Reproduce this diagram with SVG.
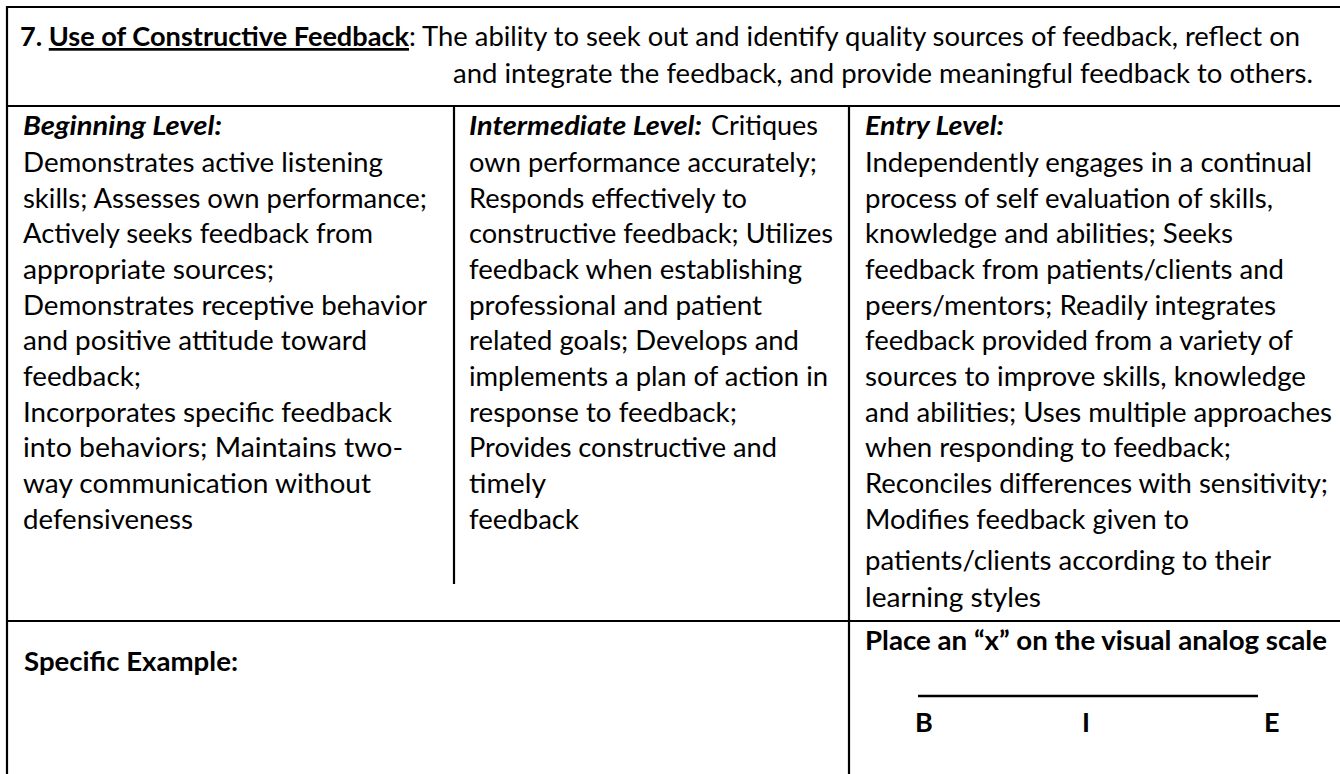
<svg xmlns="http://www.w3.org/2000/svg" width="1340" height="774" viewBox="0 0 1340 774">
<style>
  .t { font-family: Lato, "Open Sans", "Liberation Sans", sans-serif; font-size: 27px; fill: #000; }
  .b { font-weight: bold; }
  .bi { font-weight: bold; font-style: italic; }
  .grid line { stroke: #000; stroke-width: 2.2; }
</style>
<rect x="0" y="0" width="1340" height="774" fill="#fff"/>

<g id="grid" class="grid">
  <line x1="6" y1="7" x2="1340" y2="7"/>
  <line x1="7" y1="6" x2="7" y2="774"/>
  <line x1="6" y1="106" x2="1340" y2="106"/>
  <line x1="6" y1="621" x2="1340" y2="621"/>
  <line x1="454" y1="106" x2="454" y2="584"/>
  <line x1="849" y1="106" x2="849" y2="774"/>
</g>

<g id="title">
  <text class="t b" x="20" y="46" textLength="389" lengthAdjust="spacingAndGlyphs">7. <tspan text-decoration="underline">Use of Constructive Feedback</tspan></text>
  <text class="t" x="409" y="46" textLength="891" lengthAdjust="spacingAndGlyphs">: The ability to seek out and identify quality sources of feedback, reflect on</text>
  <text class="t" x="453" y="83" textLength="860" lengthAdjust="spacingAndGlyphs">and integrate the feedback, and provide meaningful feedback to others.</text>
</g>

<g id="beginning">
  <text class="t bi" x="23" y="135" textLength="199" lengthAdjust="spacingAndGlyphs">Beginning Level:</text>
  <text class="t" x="23" y="172" textLength="360" lengthAdjust="spacingAndGlyphs">Demonstrates active listening</text>
  <text class="t" x="23" y="208" textLength="404" lengthAdjust="spacingAndGlyphs">skills; Assesses own performance;</text>
  <text class="t" x="23" y="243" textLength="350" lengthAdjust="spacingAndGlyphs">Actively seeks feedback from</text>
  <text class="t" x="23" y="279" textLength="251" lengthAdjust="spacingAndGlyphs">appropriate sources;</text>
  <text class="t" x="23" y="315" textLength="404" lengthAdjust="spacingAndGlyphs">Demonstrates receptive behavior</text>
  <text class="t" x="23" y="350" textLength="344" lengthAdjust="spacingAndGlyphs">and positive attitude toward</text>
  <text class="t" x="23" y="386" textLength="118" lengthAdjust="spacingAndGlyphs">feedback;</text>
  <text class="t" x="23" y="422" textLength="369" lengthAdjust="spacingAndGlyphs">Incorporates specific feedback</text>
  <text class="t" x="23" y="457" textLength="380" lengthAdjust="spacingAndGlyphs">into behaviors; Maintains two-</text>
  <text class="t" x="23" y="493" textLength="348" lengthAdjust="spacingAndGlyphs">way communication without</text>
  <text class="t" x="23" y="529" textLength="170" lengthAdjust="spacingAndGlyphs">defensiveness</text>
</g>

<g id="intermediate">
  <text class="t bi" x="469" y="135" textLength="233" lengthAdjust="spacingAndGlyphs">Intermediate Level:</text>
  <text class="t" x="711" y="135" textLength="107" lengthAdjust="spacingAndGlyphs">Critiques</text>
  <text class="t" x="469" y="172" textLength="348" lengthAdjust="spacingAndGlyphs">own performance accurately;</text>
  <text class="t" x="469" y="208" textLength="278" lengthAdjust="spacingAndGlyphs">Responds effectively to</text>
  <text class="t" x="469" y="243" textLength="364" lengthAdjust="spacingAndGlyphs">constructive feedback; Utilizes</text>
  <text class="t" x="469" y="279" textLength="333" lengthAdjust="spacingAndGlyphs">feedback when establishing</text>
  <text class="t" x="469" y="315" textLength="293" lengthAdjust="spacingAndGlyphs">professional and patient</text>
  <text class="t" x="469" y="350" textLength="330" lengthAdjust="spacingAndGlyphs">related goals; Develops and</text>
  <text class="t" x="469" y="386" textLength="359" lengthAdjust="spacingAndGlyphs">implements a plan of action in</text>
  <text class="t" x="469" y="422" textLength="268" lengthAdjust="spacingAndGlyphs">response to feedback;</text>
  <text class="t" x="469" y="457" textLength="308" lengthAdjust="spacingAndGlyphs">Provides constructive and</text>
  <text class="t" x="469" y="493" textLength="77" lengthAdjust="spacingAndGlyphs">timely</text>
  <text class="t" x="469" y="529" textLength="110" lengthAdjust="spacingAndGlyphs">feedback</text>
</g>

<g id="entry">
  <text class="t bi" x="865" y="135" textLength="139" lengthAdjust="spacingAndGlyphs">Entry Level:</text>
  <text class="t" x="865" y="172" textLength="447" lengthAdjust="spacingAndGlyphs">Independently engages in a continual</text>
  <text class="t" x="865" y="208" textLength="408" lengthAdjust="spacingAndGlyphs">process of self evaluation of skills,</text>
  <text class="t" x="865" y="243" textLength="368" lengthAdjust="spacingAndGlyphs">knowledge and abilities; Seeks</text>
  <text class="t" x="865" y="279" textLength="419" lengthAdjust="spacingAndGlyphs">feedback from patients/clients and</text>
  <text class="t" x="865" y="315" textLength="411" lengthAdjust="spacingAndGlyphs">peers/mentors; Readily integrates</text>
  <text class="t" x="865" y="350" textLength="428" lengthAdjust="spacingAndGlyphs">feedback provided from a variety of</text>
  <text class="t" x="865" y="386" textLength="441" lengthAdjust="spacingAndGlyphs">sources to improve skills, knowledge</text>
  <text class="t" x="865" y="422" textLength="467" lengthAdjust="spacingAndGlyphs">and abilities; Uses multiple approaches</text>
  <text class="t" x="865" y="457" textLength="366" lengthAdjust="spacingAndGlyphs">when responding to feedback;</text>
  <text class="t" x="865" y="493" textLength="463" lengthAdjust="spacingAndGlyphs">Reconciles differences with sensitivity;</text>
  <text class="t" x="865" y="529" textLength="324" lengthAdjust="spacingAndGlyphs">Modifies feedback given to</text>
  <text class="t" x="865" y="570" textLength="406" lengthAdjust="spacingAndGlyphs">patients/clients according to their</text>
  <text class="t" x="865" y="607" textLength="176" lengthAdjust="spacingAndGlyphs">learning styles</text>
</g>

<g id="example">
  <text class="t b" x="24" y="671" textLength="214" lengthAdjust="spacingAndGlyphs">Specific Example:</text>
</g>

<g id="scale">
  <text class="t b" x="865" y="650" textLength="462" lengthAdjust="spacingAndGlyphs">Place an “x” on the visual analog scale</text>
  <line x1="918" y1="696" x2="1258" y2="696" stroke="#000" stroke-width="2.6"/>
  <text class="t b" x="915" y="732">B</text>
  <text class="t b" x="1082" y="732">I</text>
  <text class="t b" x="1264" y="732">E</text>
</g>
</svg>
